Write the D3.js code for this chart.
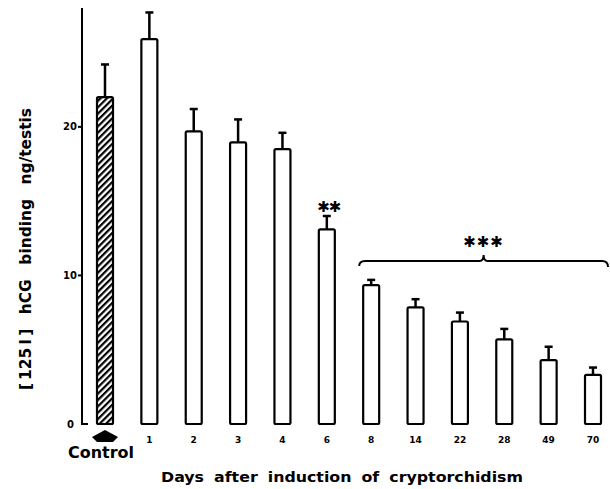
<!DOCTYPE html>
<html>
<head>
<meta charset="utf-8">
<script src="https://cdn.jsdelivr.net/npm/d3@7"></script>
<style>
  body { margin: 0; background: #fff; }
  text { font-family: "DejaVu Sans", sans-serif; font-weight: bold; fill: #000; }
</style>
</head>
<body>
<div id="chart"></div>
<script>
// DATA ---------------------------------------------------------------
const groups   = ["Control", "1", "2", "3", "4", "6", "8", "14", "22", "28", "49", "70"]
const means    = [22.0, 25.9, 19.7, 18.95, 18.5, 13.1, 9.35, 7.85, 6.9, 5.7, 4.3, 3.3]
const errTops  = [24.2, 27.7, 21.2, 20.5, 19.6, 14.0, 9.7, 8.4, 7.5, 6.4, 5.2, 3.8]
const yTicks   = [0, 10, 20]
const bracketGroups = ["8", "70"]

// SETUP --------------------------------------------------------------
const width = 610, height = 489
const barW = 16

const svg = d3.select("#chart").append("svg")
  .attr("width", width)
  .attr("height", height)

const x = d3.scalePoint().domain(groups).range([105, 593])
const y = d3.scaleLinear().domain([0, 28]).range([424, 8])

// hatch pattern for control bar
const defs = svg.append("defs")
const pat = defs.append("pattern")
  .attr("id", "hatch")
  .attr("patternUnits", "userSpaceOnUse")
  .attr("width", 4.5).attr("height", 4.5)
  .attr("patternTransform", "rotate(45)")
pat.append("rect").attr("width", 4.5).attr("height", 4.5).attr("fill", "#fff")
pat.append("rect").attr("width", 2.2).attr("height", 4.5).attr("fill", "#000")

// Y AXIS ---------------------------------------------------------------
const axis = svg.append("g").attr("stroke", "#000").attr("fill", "none")
axis.append("path")
  .attr("stroke-width", 2)
  .attr("d", `M82,${y.range()[1]}V${y(0)}H88`)
yTicks.filter(t => t > 0).forEach(t => {
  axis.append("line")
    .attr("x1", 78).attr("x2", 82)
    .attr("y1", y(t)).attr("y2", y(t))
    .attr("stroke-width", 2)
})
svg.append("g").selectAll("text").data(yTicks).join("text")
  .attr("x", d => d === 0 ? 74 : 77)
  .attr("y", d => y(d) + 3.5)
  .attr("text-anchor", "end")
  .style("font-size", "10px")
  .text(d => d)

// BARS -----------------------------------------------------------------
const bars = svg.append("g")

// error bars
bars.selectAll("line.err").data(groups).join("line")
  .attr("class", "err")
  .attr("x1", d => x(d)).attr("x2", d => x(d))
  .attr("y1", (d, i) => y(means[i])).attr("y2", (d, i) => y(errTops[i]))
  .attr("stroke", "#000").attr("stroke-width", 2.5)
bars.selectAll("line.cap").data(groups).join("line")
  .attr("class", "cap")
  .attr("x1", d => x(d) - 4).attr("x2", d => x(d) + 4)
  .attr("y1", (d, i) => y(errTops[i])).attr("y2", (d, i) => y(errTops[i]))
  .attr("stroke", "#000").attr("stroke-width", 2.5)

bars.selectAll("rect").data(groups).join("rect")
  .attr("x", d => x(d) - barW / 2)
  .attr("width", barW)
  .attr("y", (d, i) => y(means[i]))
  .attr("height", (d, i) => y(0) - y(means[i]))
  .attr("rx", 1.5)
  .attr("fill", (d, i) => i === 0 ? "url(#hatch)" : "#fff")
  .attr("stroke", "#000")
  .attr("stroke-width", 2.2)

// X TICK LABELS ----------------------------------------------------------
svg.append("g").selectAll("text").data(groups.slice(1)).join("text")
  .attr("x", d => x(d))
  .attr("y", 443)
  .attr("text-anchor", "middle")
  .style("font-size", "9px")
  .text(d => d)

// control arrow + label
const cx = x("Control")
svg.append("path")
  .attr("d", `M${cx},430L${cx + 13},437L${cx + 8},442L${cx - 8},442L${cx - 13},437Z`)
  .attr("fill", "#000")
svg.append("text")
  .attr("x", cx - 4).attr("y", 458)
  .attr("text-anchor", "middle")
  .attr("textLength", 66).attr("lengthAdjust", "spacingAndGlyphs")
  .style("font-size", "15px")
  .text("Control")

// AXIS TITLES ------------------------------------------------------------
svg.append("text")
  .attr("x", 342).attr("y", 482)
  .attr("text-anchor", "middle")
  .attr("textLength", 362).attr("lengthAdjust", "spacingAndGlyphs")
  .style("font-size", "14px")
  .style("word-spacing", "4px")
  .text("Days after induction of cryptorchidism")

svg.append("text")
  .attr("transform", "translate(31,249) rotate(-90)")
  .attr("text-anchor", "middle")
  .attr("textLength", 282).attr("lengthAdjust", "spacingAndGlyphs")
  .style("font-size", "15px")
  .style("word-spacing", "9px")
  .text("[\u2009125\u2009I\u2009] hCG binding ng/testis")

// SIGNIFICANCE -------------------------------------------------------------
svg.append("text")
  .attr("x", x("6") + 2).attr("y", 212)
  .attr("text-anchor", "middle")
  .style("font-size", "15px")
  .style("letter-spacing", "-1px")
  .text("✱✱")

const bx0 = x(bracketGroups[0]) - 12
const bx1 = x(bracketGroups[1]) + 15
const bm = (bx0 + bx1) / 2
const by = 261
svg.append("path")
  .attr("d", `M${bx0},${by + 5}Q${bx0},${by} ${bx0 + 6},${by}H${bm - 4}Q${bm},${by} ${bm},${by - 6}Q${bm},${by} ${bm + 4},${by}H${bx1 - 6}Q${bx1},${by} ${bx1},${by + 6}`)
  .attr("fill", "none")
  .attr("stroke", "#000")
  .attr("stroke-width", 2)

svg.append("text")
  .attr("x", bm).attr("y", 247)
  .attr("text-anchor", "middle")
  .style("font-size", "15px")
  .style("letter-spacing", "1px")
  .text("✱✱✱")
</script>
</body>
</html>
